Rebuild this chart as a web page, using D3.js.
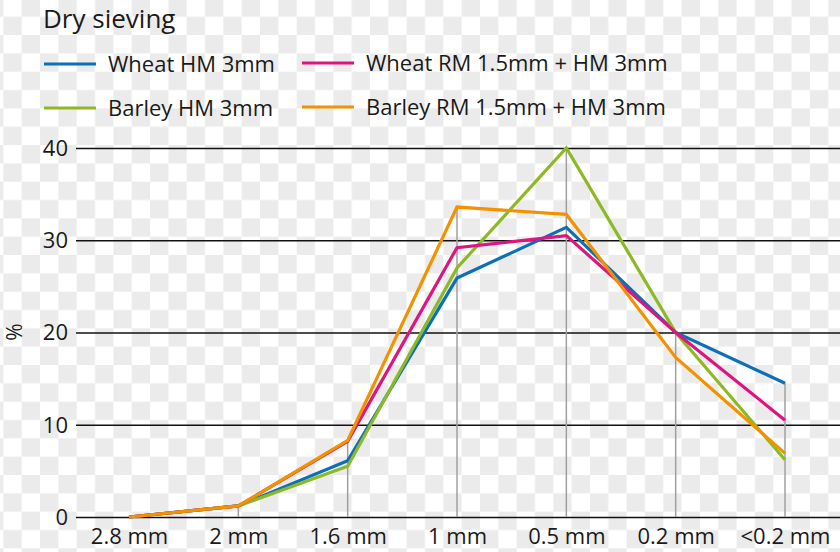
<!DOCTYPE html>
<html><head><meta charset="utf-8">
<script src="https://cdn.jsdelivr.net/npm/d3@7"></script>
<style>html,body{margin:0;padding:0;background:#fff;}svg{display:block;font-family:"Open Sans",sans-serif;}</style>
</head><body><svg id="c" width="840" height="552"></svg>
<script>
const categories = ["2.8 mm","2 mm","1.6 mm","1 mm","0.5 mm","0.2 mm","<0.2 mm"];
const seriesNames = ["Wheat HM 3mm","Barley HM 3mm","Wheat RM 1.5mm + HM 3mm","Barley RM 1.5mm + HM 3mm"];
const wheatHM = [0, 1.2, 6.1, 25.9, 31.4, 20.0, 14.5];
const barleyHM = [0, 1.2, 5.5, 27.0, 40.0, 20.0, 6.2];
const wheatRM = [0, 1.2, 8.2, 29.2, 30.5, 20.0, 10.5];
const barleyRM = [0, 1.2, 8.3, 33.6, 32.8, 17.3, 6.9];
const yTicks = [0, 10, 20, 30, 40];
const colors = ["#0b6fba", "#8cb924", "#de157f", "#f39200"];

const series = [
  {name: seriesNames[0], values: wheatHM, color: colors[0]},
  {name: seriesNames[1], values: barleyHM, color: colors[1]},
  {name: seriesNames[2], values: wheatRM, color: colors[2]},
  {name: seriesNames[3], values: barleyRM, color: colors[3]}
];

const svg = d3.select("#c");
// checkerboard "transparent" background
const cs = 18.33;
const defs = svg.append("defs");
const pat = defs.append("pattern").attr("id","chk").attr("patternUnits","userSpaceOnUse")
  .attr("x",3.4).attr("y",-1.6).attr("width",cs*2).attr("height",cs*2);
pat.append("rect").attr("width",cs*2).attr("height",cs*2).attr("fill","#ffffff");
pat.append("rect").attr("x",cs).attr("y",0).attr("width",cs).attr("height",cs).attr("fill","#ebebeb");
pat.append("rect").attr("x",0).attr("y",cs).attr("width",cs).attr("height",cs).attr("fill","#ebebeb");
svg.append("rect").attr("width",840).attr("height",552).attr("fill","url(#chk)");

const x = d3.scalePoint().domain(categories).range([129, 785]);
const y = d3.scaleLinear().domain([0, 40]).range([517, 148]);
const textColor = "#1a1a1a";

// title
svg.append("text").attr("x",43).attr("y",28).attr("font-size",26).attr("fill",textColor).text("Dry sieving");

// legend
const legPos = [[44,64],[44,108],[302,63],[302,107]];
series.forEach((s,i)=>{
  const [lx,ly] = legPos[i];
  svg.append("line").attr("x1",lx).attr("x2",lx+52).attr("y1",ly).attr("y2",ly)
    .attr("stroke",s.color).attr("stroke-width",3);
  svg.append("text").attr("x",lx+64).attr("y",ly+8).attr("font-size",22).attr("fill",textColor).text(s.name);
});

// horizontal grid via axis
const yAxis = d3.axisLeft(y).tickValues(yTicks).tickSize(-(840-76)).tickPadding(8);
const gy = svg.append("g").attr("transform","translate(76,0)").call(yAxis);
gy.select(".domain").remove();
gy.selectAll(".tick line").attr("stroke","#111").attr("stroke-width",1.6);
gy.selectAll(".tick text").attr("font-size",22).attr("fill",textColor).attr("font-family","Open Sans").attr("dy","0.34em");

// y label
svg.append("text").attr("transform","translate(22,332) rotate(-90)").attr("text-anchor","middle")
  .attr("font-size",21).attr("fill",textColor).text("%");

// vertical drop lines up to max value at each category
categories.forEach((c,i)=>{
  const mx = d3.max(series, s=>s.values[i]);
  if (mx > 0) {
    svg.append("line").attr("x1",x(c)).attr("x2",x(c)).attr("y1",y(0)).attr("y2",y(mx))
      .attr("stroke","#a0a0a0").attr("stroke-width",1.5);
  }
});

// x labels
const xAxis = d3.axisBottom(x).tickSize(0).tickPadding(11);
const gx = svg.append("g").attr("transform","translate(0,517)").call(xAxis);
gx.select(".domain").remove();
gx.selectAll(".tick text").attr("font-size",22).attr("fill",textColor).attr("font-family","Open Sans");

// lines
const line = d3.line().x((d,i)=>x(categories[i])).y(d=>y(d));
series.forEach(s=>{
  svg.append("path").datum(s.values).attr("d",line).attr("fill","none")
    .attr("stroke",s.color).attr("stroke-width",3.2).attr("stroke-linejoin","miter");
});
</script></body></html>
